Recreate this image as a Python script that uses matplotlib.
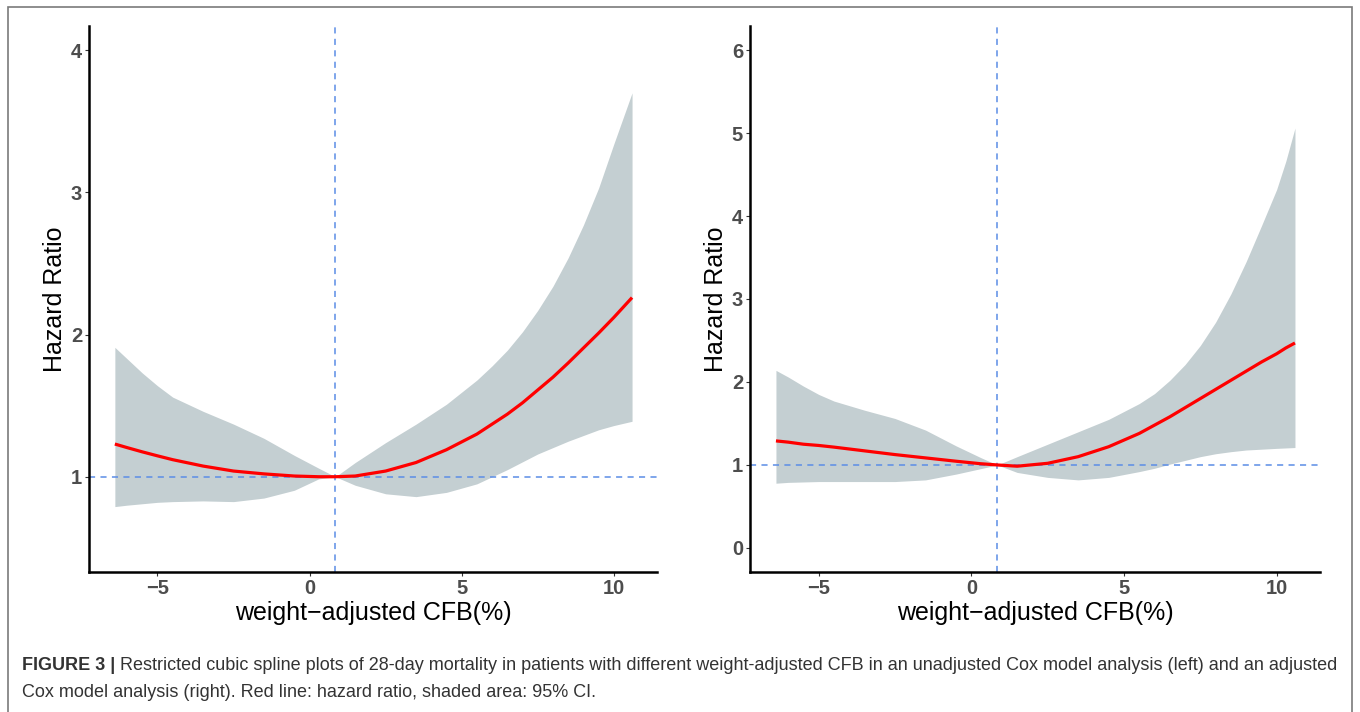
import numpy as np
import matplotlib.pyplot as plt
import matplotlib.patches as patches

plt.rcParams['font.family'] = ['Liberation Sans', 'DejaVu Sans']

# values
x_vals = [-6.4, -6.0, -5.5, -5.0, -4.5, -3.5, -2.5, -1.5, -0.5, 0.3, 0.85, 1.5, 2.5,
		  3.5, 4.5, 5.5, 6.0, 6.5, 7.0, 7.5, 8.0, 8.5, 9.0, 9.5, 10.0, 10.3, 10.6]

# left: unadjusted model
left_hr = [1.23, 1.205, 1.175, 1.147, 1.12, 1.075, 1.04, 1.02, 1.005, 1.0, 1.0, 1.005, 1.04,
		   1.10, 1.19, 1.30, 1.37, 1.44, 1.52, 1.61, 1.70, 1.80, 1.905, 2.01, 2.12, 2.19, 2.26]
left_lower = [0.79, 0.80, 0.81, 0.82, 0.825, 0.83, 0.825, 0.85, 0.905, 0.985, 1.0, 0.94, 0.88,
			  0.86, 0.89, 0.95, 1.0, 1.05, 1.105, 1.16, 1.205, 1.25, 1.29, 1.33, 1.36, 1.375, 1.39]
left_upper = [1.91, 1.83, 1.73, 1.64, 1.56, 1.46, 1.37, 1.27, 1.15, 1.06, 1.0, 1.10, 1.24,
			  1.37, 1.51, 1.68, 1.78, 1.89, 2.02, 2.17, 2.34, 2.54, 2.77, 3.03, 3.34, 3.52, 3.70]

# right: adjusted model
right_hr = [1.29, 1.275, 1.25, 1.235, 1.215, 1.17, 1.125, 1.085, 1.045, 1.015, 1.0, 0.985, 1.02,
			1.10, 1.22, 1.38, 1.48, 1.58, 1.69, 1.80, 1.91, 2.02, 2.13, 2.24, 2.34, 2.41, 2.47]
right_lower = [0.78, 0.79, 0.795, 0.80, 0.80, 0.80, 0.80, 0.82, 0.89, 0.955, 1.0, 0.91, 0.85,
			   0.82, 0.85, 0.92, 0.96, 1.01, 1.055, 1.10, 1.135, 1.16, 1.18, 1.19, 1.20, 1.205, 1.21]
right_upper = [2.14, 2.06, 1.95, 1.85, 1.77, 1.66, 1.56, 1.42, 1.23, 1.09, 1.0, 1.10, 1.25,
			   1.40, 1.55, 1.74, 1.86, 2.02, 2.21, 2.44, 2.72, 3.06, 3.45, 3.88, 4.32, 4.66, 5.06]

ref_x = 0.85
x_ticks = [-5, 0, 5, 10]
left_y_ticks = [1, 2, 3, 4]
right_y_ticks = [0, 1, 2, 3, 4, 5, 6]

caption_bold = "FIGURE 3 |"
caption_line1 = ("Restricted cubic spline plots of 28-day mortality in patients with different "
				 "weight-adjusted CFB in an unadjusted Cox model analysis (left) and an adjusted")
caption_line2 = "Cox model analysis (right). Red line: hazard ratio, shaded area: 95% CI."

W, H = 1360, 712


def draw_panel(ax, hr, lower, upper, ylim, yticks):
	ax.fill_between(x_vals, lower, upper, color='#C4CFD2', linewidth=0, zorder=1)
	ax.plot(x_vals, hr, color='#FF0000', linewidth=2.3, solid_capstyle='butt',
			solid_joinstyle='round', zorder=3)
	ax.axhline(1, color='#5B8DE6', linestyle=(0, (4, 3.5)), linewidth=1.1, zorder=2)
	ax.axvline(ref_x, color='#5B8DE6', linestyle=(0, (4, 3.5)), linewidth=1.1, zorder=2)

	ax.set_xlim(-7.25, 11.42)
	ax.set_ylim(*ylim)
	ax.set_xticks(x_ticks)
	ax.set_yticks(yticks)
	for side in ['top', 'right']:
		ax.spines[side].set_visible(False)
	for side in ['left', 'bottom']:
		ax.spines[side].set_linewidth(1.8)
		ax.spines[side].set_color('black')
	ax.tick_params(axis='both', length=3, width=0.8, color='#333333', pad=2,
				   labelsize=14.5, labelcolor='#4D4D4D')
	for lab in ax.get_xticklabels() + ax.get_yticklabels():
		lab.set_fontweight('bold')
	ax.set_xlabel('weight\u2212adjusted CFB(%)', fontsize=18, labelpad=2)
	ax.set_ylabel('Hazard Ratio', fontsize=18, labelpad=3)


fig = plt.figure(figsize=(W / 100, H / 100), dpi=100)

ax1 = fig.add_axes([89 / W, (H - 572) / H, (657 - 89) / W, (572 - 26) / H])
ax2 = fig.add_axes([750 / W, (H - 572) / H, (1320 - 750) / W, (572 - 26) / H])

draw_panel(ax1, left_hr, left_lower, left_upper, (0.33, 4.17), left_y_ticks)
draw_panel(ax2, right_hr, right_lower, right_upper, (-0.29, 6.29), right_y_ticks)

# outer frame of the figure box
frame = patches.Rectangle((8 / W, -0.05), (1352 - 8) / W, (H - 7) / H + 0.05,
						  transform=fig.transFigure, fill=False, edgecolor='#7A7A7A',
						  linewidth=1.2)
fig.patches.append(frame)

# caption, sized to fill the line width of the reference
size = 10
t_bold = fig.text(22 / W, 1 - 670 / H, caption_bold, fontsize=size, fontweight='bold',
				  color='#333333', va='baseline')
t_rest = fig.text(0, 1 - 670 / H, caption_line1, fontsize=size, color='#333333', va='baseline')
fig.canvas.draw()
r = fig.canvas.get_renderer()
total = t_bold.get_window_extent(r).width + 5 + t_rest.get_window_extent(r).width
size = size * (1318 / total)
t_bold.set_fontsize(size)
t_rest.set_fontsize(size)
fig.canvas.draw()
bb = t_bold.get_window_extent(r)
t_rest.set_x((bb.x1 + 5) / W)
fig.text(22 / W, 1 - 697 / H, caption_line2, fontsize=size, color='#333333', va='baseline')

fig.savefig('out.png', dpi=100)
